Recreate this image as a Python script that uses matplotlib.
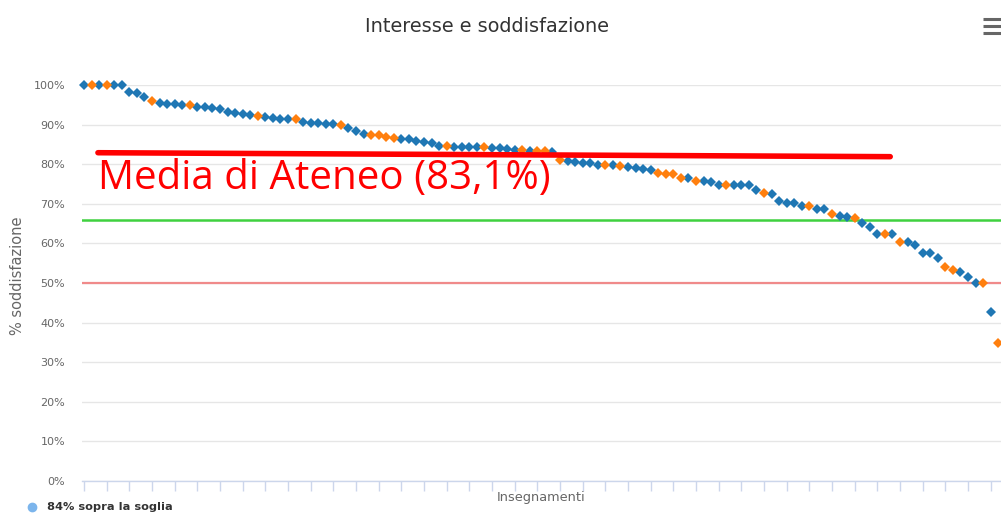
import matplotlib
matplotlib.use("Agg")
import matplotlib.pyplot as plt
from matplotlib.lines import Line2D
import numpy as np

# ---------------- data ----------------
title = "Interesse e soddisfazione"
y_label = "% soddisfazione"
x_label = "Insegnamenti"
legend_label = "84% sopra la soglia"
media_label = "Media di Ateneo (83,1%)"

values = [
    100, 100, 100, 100, 100, 100, 98.3, 97.9, 96.9, 96.0, 95.5, 95.2, 95.2, 95.0, 95.0, 94.5, 94.4, 94.1, 94.0, 93.3, 93.0,
    92.6, 92.4, 92.2, 92.0, 91.6, 91.4, 91.4, 91.4, 90.7, 90.3, 90.3, 90.1, 90.1, 89.9, 89.2, 88.5, 87.6, 87.4, 87.4, 86.9,
    86.5, 86.4, 86.4, 85.9, 85.5, 85.3, 84.7, 84.7, 84.4, 84.4, 84.4, 84.3, 84.3, 84.0, 84.0, 83.8, 83.6, 83.6, 83.3, 83.3,
    83.3, 83.1, 81.1, 80.9, 80.5, 80.2, 80.2, 79.9, 79.9, 79.8, 79.6, 79.4, 79.0, 78.8, 78.5, 77.7, 77.5, 77.5, 76.4, 76.4,
    75.8, 75.8, 75.6, 74.7, 74.7, 74.7, 74.7, 74.7, 73.5, 72.8, 72.5, 70.7, 70.3, 70.3, 69.4, 69.4, 68.8, 68.8, 67.4, 67.0, 66.6,
    66.4, 65.1, 64.2, 62.5, 62.5, 62.4, 60.4, 60.4, 59.6, 57.5, 57.5, 56.2, 54.1, 53.3, 52.9, 51.6, 49.9, 49.9, 42.8, 34.8,
]
groups = (
    "BOBOBBBBBOBBBBOBBBBBB"
    "BBOBBBBOBBBBBOBBBOOO"
    "OBBBBBBOBBBBOBBBBOBO"
    "OBOBBBBBOBOBBBBOOOOB"
    "OBBBOBBBBOBBBBBOBBOBB"
    "OBBBOBOBBBBBOOBBBOBO"
)
green_threshold = 66
red_threshold = 50
media_line_x = [1.85, 106.7]
media_line_y = [82.9, 81.9]
y_ticks = list(range(0, 101, 10))
y_tick_labels = [f"{v}%" for v in y_ticks]

# ---------------- figure ----------------
W, H = 1001, 516
fig = plt.figure(figsize=(W / 100, H / 100), dpi=100)
fig.patch.set_facecolor("white")

ax_left, ax_right = 81.7, 1001
ax_top, ax_bottom = 85, 481
ax = fig.add_axes([ax_left / W, 1 - ax_bottom / H, (ax_right - ax_left) / W, (ax_bottom - ax_top) / H])

n = len(values)
x = np.arange(n)
vals = np.array(values)
g = np.array(list(groups))

ax.set_xlim(-0.30, 121.36)
ax.set_ylim(0, 100)

for s in ["top", "right", "left"]:
    ax.spines[s].set_visible(False)
ax.spines["bottom"].set_color("#ccd6eb")
ax.spines["bottom"].set_linewidth(1)

ax.set_yticks(y_ticks)
ax.set_yticklabels(y_tick_labels)
ax.tick_params(axis="y", length=0, pad=12, labelsize=8, labelcolor="#666666")
ax.yaxis.grid(True, color="#e6e6e6", linewidth=1.0)
ax.set_axisbelow(True)

ax.set_xticks(np.arange(0, n, 3))
ax.tick_params(axis="x", length=7.5, width=1, color="#ccd6eb", labelbottom=False, direction="out")

# threshold lines
ax.axhline(green_threshold, color="#3fd13f", linewidth=1.8, zorder=1.5)
ax.axhline(red_threshold, color="#f08a8a", linewidth=1.6, zorder=1.5)

# points
colors = {"B": "#1f77b4", "O": "#ff7f0e"}
for key in ["B", "O"]:
    m = g == key
    ax.plot(x[m], vals[m], linestyle="none", marker="D", markersize=4.9,
            color=colors[key], markeredgewidth=0, clip_on=False, zorder=3)

# media annotation line
ax.plot(media_line_x, media_line_y, color="#ff0000", linewidth=4.0,
        solid_capstyle="round", zorder=4)
fig.text(98 / W, 1 - 189 / H, media_label, color="#ff0000", fontsize=29,
         family=["Open Sans", "DejaVu Sans"], ha="left", va="baseline")

# title
fig.text(487 / W, 1 - 27 / H, title, ha="center", va="center", fontsize=13.9,
         color="#333333")

# axis labels
fig.text(18 / W, 1 - 276 / H, y_label, rotation=90, ha="center", va="center",
         fontsize=10.5, color="#666666")
fig.text(541 / W, 1 - 498 / H, x_label, ha="center", va="center",
         fontsize=9.3, color="#666666")

# legend
fig.add_artist(Line2D([32 / W], [1 - 507 / H], marker="o", markersize=6,
                      color="#7cb5ec", linestyle="none"))
fig.text(47 / W, 1 - 507 / H, legend_label, ha="left", va="center", fontsize=8.2,
         color="#333333", fontweight="bold")

# menu icon
for yy in (19, 26, 33):
    fig.add_artist(Line2D([983 / W, 1001 / W], [1 - yy / H, 1 - yy / H],
                          color="#666666", linewidth=2.2, solid_capstyle="butt"))

fig.savefig("out.png", dpi=100, facecolor="white")
